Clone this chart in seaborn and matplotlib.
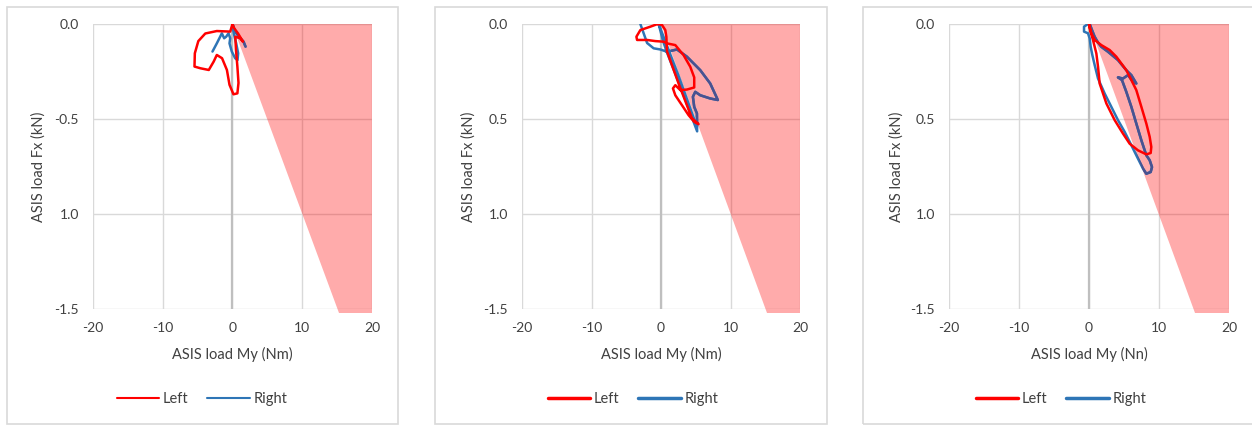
import numpy as np
import pandas as pd
import seaborn as sns
import matplotlib
matplotlib.use("Agg")
import matplotlib.pyplot as plt
from matplotlib.patches import Polygon, Rectangle
from matplotlib.lines import Line2D

# ---------------- data ----------------
x_ticks = [-20, -10, 0, 10, 20]
x_ticklabels = ["-20", "-10", "0", "10", "20"]
y_ticks = [0.0, -0.5, -1.0, -1.5]
y_ticklabels_p1 = ["0.0", "-0.5", "1.0", "-1.5"]
y_ticklabels_p23 = ["0.0", "0.5", "1.0", "-1.5"]
x_labels = ["ASIS load My (Nm)", "ASIS load My (Nm)", "ASIS load My (Nn)"]
y_label = "ASIS load Fx (kN)"
series_names = ["Left", "Right"]

# limit region (My, Fx)
limit_my = [0, 20, 20, 15.2]
limit_fx = [0, 0, -1.52, -1.52]

# panel 1
p1_left_my = [0, -0.33, -2.25, -3.9, -4.9, -5.4, -5.45, -4.6, -3.4, -2.7, -2.25, -1.5, -0.8,
              -0.43, 0.14, 0.7, 0.86, 0.7, 0.5, 0.4, 1.1, 1.5, 0.8, 0.2, 0]
p1_left_fx = [0, -0.04, -0.037, -0.05, -0.09, -0.154, -0.224, -0.233, -0.242, -0.198, -0.163, -0.18, -0.242,
              -0.32, -0.37, -0.365, -0.31, -0.224, -0.137, -0.067, -0.075, -0.093, -0.05, -0.02, 0]
p1_right_my = [-2.87, -2.25, -1.77, -1.53, -1.2, -0.91, -0.57, -0.33, -0.43, -0.1, 0.38, 0.72, 0.81,
               0.53, 0.24, 0.05, 0, 0.38, 1.0, 1.58, 1.87]
p1_right_fx = [-0.145, -0.102, -0.067, -0.049, -0.075, -0.067, -0.049, -0.075, -0.102, -0.145, -0.18, -0.19, -0.154,
               -0.102, -0.058, -0.023, 0, -0.04, -0.07, -0.093, -0.119]

# panel 2
p2_left_my = [-0.48, -1.53, -2.97, -3.54, -3.44, -2.0, -0.81, 0.38, 0.86, 2.06, 3.25, 4.21, 4.78, 4.78,
              3.73, 2.78, 2.06, 1.72, 2.06, 3.01, 3.97, 4.78, 5.4, 4.45, 2.6, 0.86, 0.77, 0.62, 0.14, -0.48]
p2_left_fx = [0, -0.014, -0.032, -0.067, -0.084, -0.084, -0.09, -0.093, -0.102, -0.111, -0.164, -0.225, -0.281, -0.334,
              -0.345, -0.348, -0.322, -0.339, -0.375, -0.427, -0.48, -0.515, -0.527, -0.496, -0.32, -0.144, -0.067, -0.032, -0.005, 0]
p2_right_my = [-2.97, -2.0, -1.06, -0.1, 0.86, 2.3, 3.73, 5.65, 7.08, 8.18, 7.08, 5.65, 4.93, 4.59, 4.78, 5.17,
               5.2, 2.9, 0.86, 0.3, -0.34, 2.5, 5.16]
p2_right_fx = [0, -0.10, -0.128, -0.134, -0.146, -0.134, -0.172, -0.243, -0.313, -0.40, -0.392, -0.375, -0.357, -0.383, -0.436, -0.471,
               -0.565, -0.34, -0.15, -0.09, 0, -0.27, -0.54]

# panel 3
p3_left_my = [0, 0.33, 0.81, 1.76, 2.95, 3.9, 5.33, 6.05, 6.76, 7.48, 8.19, 8.67, 8.9, 8.81, 8.19, 7.0, 5.81,
              4.86, 3.67, 2.48, 1.52, 1.29, 1.05, 0.57, 0.1, 0]
p3_left_fx = [0, -0.049, -0.084, -0.111, -0.137, -0.172, -0.243, -0.295, -0.348, -0.436, -0.524, -0.594, -0.647, -0.679,
              -0.686, -0.665, -0.63, -0.577, -0.506, -0.418, -0.313, -0.225, -0.155, -0.084, -0.023, 0]
p3_right_my = [-0.14, -0.71, -0.71, -0.14, 0.1, 0.24, 0.48, 0.81, 1.29, 2.24, 3.19, 4.14, 5.1, 6.05, 7.0, 7.71,
               8.19, 8.81, 9.0, 8.67, 8.19, 7.48, 6.76, 6.05, 5.33, 4.71, 4.14, 4.86, 5.57, 6.29, 6.76, 6.05,
               5.33, 4.14, 2.71, 1.76, 1.29, 0.81, 0.43, 0.1]
p3_right_fx = [0, -0.014, -0.04, -0.049, -0.076, -0.12, -0.164, -0.216, -0.287, -0.366, -0.436, -0.506, -0.568, -0.638,
               -0.709, -0.761, -0.788, -0.779, -0.753, -0.717, -0.691, -0.612, -0.524, -0.436, -0.357, -0.295, -0.281,
               -0.287, -0.269, -0.304, -0.313, -0.269, -0.243, -0.19, -0.146, -0.12, -0.098, -0.067, -0.032, 0]

panels = [
    (p1_left_my, p1_left_fx, p1_right_my, p1_right_fx, y_ticklabels_p1),
    (p2_left_my, p2_left_fx, p2_right_my, p2_right_fx, y_ticklabels_p23),
    (p3_left_my, p3_left_fx, p3_right_my, p3_right_fx, y_ticklabels_p23),
]

# ---------------- style ----------------
sns.set_theme(style="white")
plt.rcParams['font.family'] = ['Lato', 'DejaVu Sans']
TXT = "#404040"
RED = "#FF0000"
BLUE = "#2E75B6"
NAVY = "#4A5290"
GRID = "#D9D9D9"

W, H = 1252, 426
fig = plt.figure(figsize=(W / 100, H / 100), dpi=100)

ax_px = [(93, 372), (522, 800), (949, 1229)]
ax_top, ax_bot = 24, 309
borders = [(7, 398), (435, 827), (863, 1262)]
legend_cx = [202, 633, 1061]
ylab_x = [-0.194, -0.194, -0.186]
legend_lw = [1.5, 2.5, 2.5]

for i, (lmy, lfx, rmy, rfx, ylabs) in enumerate(panels):
    # panel border
    bx0, bx1 = borders[i]
    fig.patches.append(Rectangle((bx0 / W, 1 - 424 / H), (bx1 - bx0) / W, 417 / H,
                                 transform=fig.transFigure, fill=False,
                                 edgecolor="#D9D9D9", linewidth=1.2, zorder=0))
    x0, x1 = ax_px[i]
    ax = fig.add_axes([x0 / W, 1 - ax_bot / H, (x1 - x0) / W, (ax_bot - ax_top) / H])
    ax.set_xlim(-20, 20)
    ax.set_ylim(-1.5, 0)
    ax.set_xticks(x_ticks)
    ax.set_xticklabels(x_ticklabels)
    ax.set_yticks(y_ticks)
    ax.set_yticklabels(ylabs)
    for s in ax.spines.values():
        s.set_visible(False)
    ax.tick_params(length=0, labelsize=10, colors=TXT)
    ax.tick_params(axis='x', pad=9)
    ax.tick_params(axis='y', pad=10)
    ax.grid(True, color=GRID, linewidth=1.0, zorder=0)
    ax.set_axisbelow(True)
    ax.axvline(0, color="#BFBFBF", linewidth=1.6, zorder=0.6)

    df_l = pd.DataFrame({"My": lmy, "Fx": lfx})
    df_r = pd.DataFrame({"My": rmy, "Fx": rfx})

    # limit region
    poly = Polygon(np.column_stack([limit_my, limit_fx]), closed=True,
                   facecolor=RED, alpha=0.33, edgecolor="none", zorder=1, clip_on=False)
    ax.add_patch(poly)

    sns.lineplot(data=df_l, x="My", y="Fx", sort=False, estimator=None, ax=ax,
                 color=RED, linewidth=1.8, zorder=3)
    sns.lineplot(data=df_r, x="My", y="Fx", sort=False, estimator=None, ax=ax,
                 color=BLUE, linewidth=1.8, zorder=2)
    # blue curve seen through the shaded region appears darker
    clip_poly = Polygon(np.column_stack([limit_my, limit_fx]), closed=True,
                        transform=ax.transData, visible=False)
    ax.add_patch(clip_poly)
    sns.lineplot(data=df_r, x="My", y="Fx", sort=False, estimator=None, ax=ax,
                 color=NAVY, linewidth=1.8, zorder=2.5)
    ax.lines[-1].set_clip_path(clip_poly)

    ax.set_xlabel(x_labels[i], fontsize=10.5, color=TXT)
    ax.set_ylabel(y_label, fontsize=10.5, color=TXT)
    ax.xaxis.set_label_coords(0.5, -0.16)
    ax.yaxis.set_label_coords(ylab_x[i], 0.5)
    ax.xaxis.label.set_va("center")
    ax.yaxis.label.set_va("center")

    handles = [Line2D([], [], color=RED, lw=legend_lw[i]),
               Line2D([], [], color=BLUE, lw=legend_lw[i])]
    fig.legend(handles, series_names, loc="center", ncol=2, frameon=False,
               bbox_to_anchor=(legend_cx[i] / W, 1 - 399 / H),
               fontsize=10.5, handlelength=2.9, handletextpad=0.25, columnspacing=1.3,
               labelcolor=TXT)

fig.savefig("out.png", dpi=100)
